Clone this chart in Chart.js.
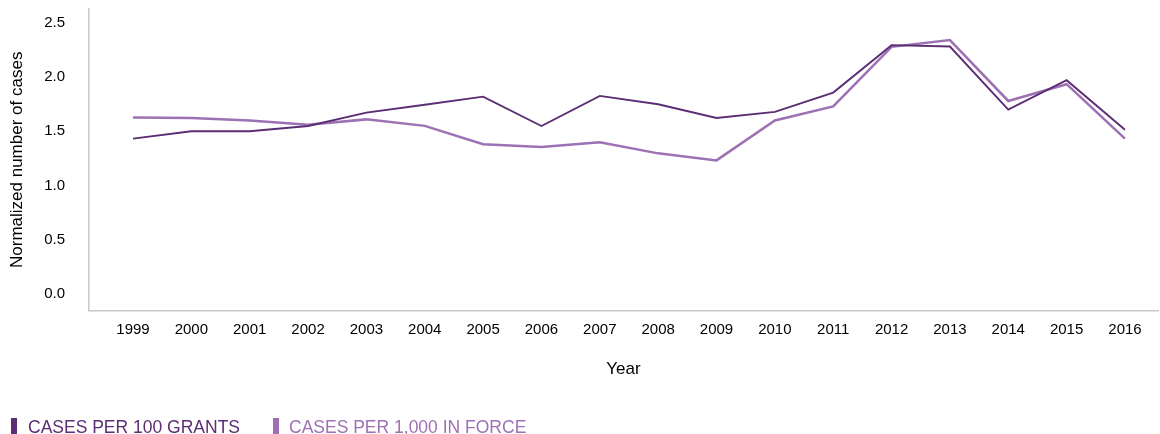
<!DOCTYPE html>
<html>
<head>
<meta charset="utf-8">
<script src="https://cdn.jsdelivr.net/npm/chart.js@4/dist/chart.umd.min.js"></script>
<style>
html,body{margin:0;padding:0;background:#fff;}
#wrap{width:1160px;height:434px;position:relative;overflow:hidden;}
#legend{position:absolute;left:0;top:415px;height:20px;font-family:'Liberation Sans',Arial,sans-serif;font-size:17.5px;line-height:20px;white-space:nowrap;}
#legend .sw{position:absolute;top:3px;width:6px;height:17px;}
#legend .tx{position:absolute;top:2px;}
</style>
</head>
<body>
<div id="wrap"><canvas id="c" width="1160" height="434"></canvas><div id="legend"></div></div>
<script>
const years = ["1999","2000","2001","2002","2003","2004","2005","2006","2007","2008","2009","2010","2011","2012","2013","2014","2015","2016"];
const casesPer100Grants = [1.432,1.50,1.50,1.549,1.673,1.745,1.82,1.549,1.827,1.75,1.623,1.679,1.858,2.296,2.283,1.70,1.972,1.515];
const casesPer1000InForce = [1.627,1.623,1.60,1.56,1.61,1.55,1.38,1.355,1.398,1.296,1.231,1.60,1.73,2.28,2.343,1.78,1.935,1.432];
const yTicks = [0,0.5,1.0,1.5,2.0,2.5];
const seriesLabels = ['CASES PER 100 GRANTS','CASES PER 1,000 IN FORCE'];

const DARK = "#5c2d73";
const LIGHT = "#9d71b3";
const FONT = "'Liberation Sans', Arial, sans-serif";

function pts(arr){ return arr.map((v,i)=>({x:i,y:v})); }

const chart = new Chart(document.getElementById('c'), {
  type: 'line',
  data: {
    datasets: [
      {label: seriesLabels[0], data: pts(casesPer100Grants), borderColor: DARK, backgroundColor: DARK, borderWidth: 1.9, pointRadius: 0, tension: 0},
      {label: seriesLabels[1], data: pts(casesPer1000InForce), borderColor: LIGHT, backgroundColor: LIGHT, borderWidth: 2.5, pointRadius: 0, tension: 0}
    ]
  },
  options: {
    responsive: false,
    animation: false,
    layout: {padding: {left: 0, right: 2, top: 0, bottom: 48}},
    plugins: {
      tooltip: {enabled: false},
      legend: {display: false}
    },
    scales: {
      x: {
        type: 'linear',
        min: -0.754,
        max: 17.566,
        afterBuildTicks(scale){ scale.ticks = years.map((_,i)=>({value:i})); },
        ticks: {
          autoSkip: false, maxRotation: 0, padding: 10,
          color: '#000', font: {family: FONT, size: 15},
          callback(v){ return years[v]; }
        },
        grid: {display: false, drawTicks: false},
        border: {display: true, color: '#c8c8c8', width: 1.5},
        title: {display: true, text: 'Year', color: '#000', font: {family: FONT, size: 17}, padding: {top: 11, bottom: 6}}
      },
      y: {
        min: -0.157,
        max: 2.63,
        afterBuildTicks(scale){ scale.ticks = yTicks.map(v=>({value:v})); },
        afterFit(scale){ scale.width = 89; },
        ticks: {
          padding: 0, color: '#000', font: {family: FONT, size: 15},
          callback(v){ return v.toFixed(1); }
        },
        grid: {display: false, drawTicks: true, tickLength: 24},
        border: {display: true, color: '#c8c8c8', width: 1.5},
        title: {display: true, text: 'Normalized number of cases', color: '#000', font: {family: FONT, size: 17}, padding: {top: 7, bottom: 4}}
      }
    }
  }
});

// HTML legend built from the chart's datasets
const legendPos = [{sw: 11, tx: 28}, {sw: 273, tx: 289}];
const lg = document.getElementById('legend');
chart.data.datasets.forEach((d, i) => {
  const sw = document.createElement('span');
  sw.className = 'sw'; sw.style.left = legendPos[i].sw + 'px'; sw.style.background = d.borderColor;
  const tx = document.createElement('span');
  tx.className = 'tx'; tx.style.left = legendPos[i].tx + 'px'; tx.style.color = d.borderColor; tx.textContent = d.label;
  lg.appendChild(sw); lg.appendChild(tx);
});
</script>
</body>
</html>
